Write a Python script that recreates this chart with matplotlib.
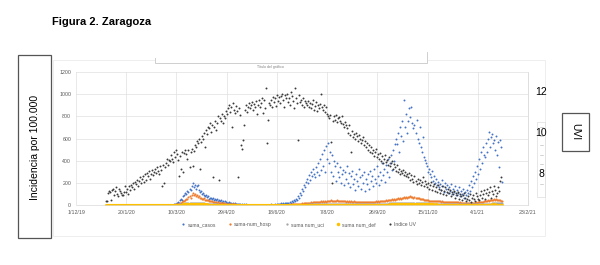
import matplotlib.pyplot as plt
from matplotlib.patches import Rectangle
from matplotlib.lines import Line2D
import pandas as pd

plt.rcParams["font.family"] = ["Liberation Sans", "DejaVu Sans"]

W, H = 600, 265

# first day of each daily series
uv_start = "2019-12-31"
def_start = "2019-12-31"
casos_start = "2020-02-29"
hosp_start = "2020-02-29"
uci_start = "2020-02-29"

# Indice UV (plotted on the incidence scale, as in the source sheet)
indice_uv = [
    35, 40, 110, 130, 120, 45, 140, 150, 90, 130, 160, 100, 80, 150, 130, 110, 90, 95, 120, 170,
    120, 150, 100, 170, 140, 180, 160, 200, 150, 210, 190, 230, 170, 220, 250, 200, 240, 260, 210, 280,
    230, 290, 260, 310, 240, 280, 320, 270, 300, 330, 290, 340, 310, 280, 350, 320, 170, 360, 200, 340,
    380, 420, 360, 410, 400, 450, 420, 390, 480, 430, 500, 460, 410, 260, 440, 330, 480, 300, 470, 500,
    460, 420, 500, 340, 480, 510, 350, 490, 540, 520, 580, 560, 600, 330, 570, 620, 600, 650, 520, 680,
    640, 700, 690, 740, 660, 720, 255, 700, 760, 680, 740, 800, 230, 780, 760, 820, 740, 800, 780, 850,
    820, 870, 900, 840, 880, 700, 920, 860, 830, 890, 850, 255, 870, 810, 540, 510, 590, 720, 860, 900,
    840, 880, 920, 870, 900, 930, 860, 910, 880, 940, 820, 900, 950, 880, 920, 960, 830, 950, 870, 1050,
    560, 770, 920, 900, 950, 880, 970, 930, 960, 890, 990, 940, 970, 920, 980, 1000, 950, 880, 990, 960,
    1000, 930, 960, 900, 1020, 980, 940, 870, 1050, 960, 920, 590, 990, 930, 950, 900, 960, 880, 940, 920,
    900, 940, 880, 920, 870, 910, 950, 860, 890, 930, 850, 900, 870, 910, 1000, 880, 860, 900, 840, 880,
    820, 800, 780, 810, 570, 200, 760, 800, 770, 810, 750, 780, 790, 760, 740, 800, 730, 700, 750, 720,
    690, 650, 720, 630, 475, 670, 610, 640, 600, 650, 620, 580, 630, 600, 560, 590, 610, 540, 580, 520,
    560, 500, 540, 480, 520, 470, 500, 440, 480, 510, 430, 460, 420, 470, 400, 440, 380, 420, 450, 390,
    410, 360, 430, 350, 380, 400, 330, 370, 340, 310, 360, 300, 330, 280, 310, 290, 320, 270, 300, 260,
    280, 250, 290, 230, 270, 240, 210, 260, 220, 190, 240, 200, 230, 180, 210, 250, 170, 220, 190, 160,
    200, 150, 180, 210, 140, 170, 190, 130, 160, 120, 180, 150, 110, 140, 170, 100, 130, 160, 90, 120,
    150, 110, 140, 80, 120, 100, 130, 70, 110, 90, 120, 60, 100, 80, 50, 90, 110, 70, 40, 60,
    80, 50, 100, 30, 70, 90, 60, 40, 110, 80, 60, 50, 90, 130, 70, 100, 140, 60, 110, 150,
    90, 120, 160, 70, 130, 100, 170, 140, 80, 110, 160, 130, 220, 250,
]

suma_casos = [
    0, 1, 0, 2, 1, 3, 5, 4, 8, 10, 15, 20, 30, 25, 45, 60, 50, 80, 95, 110,
    100, 130, 120, 150, 140, 170, 200, 160, 185, 150, 170, 180, 140, 120, 130, 100, 110, 95, 80, 90,
    75, 85, 60, 70, 65, 55, 70, 50, 60, 45, 55, 40, 50, 35, 45, 30, 40, 25, 35, 30,
    25, 20, 30, 18, 22, 15, 20, 12, 18, 10, 14, 8, 12, 10, 6, 9, 7, 10, 5, 8,
    6, 4, 7, 5, 3, 6, 4, 2, 5, 3, 4, 2, 3, 5, 2, 4, 3, 6, 2, 5,
    3, 4, 6, 3, 8, 5, 7, 4, 10, 6, 12, 8, 15, 10, 18, 14, 20, 12, 25, 18,
    20, 25, 15, 30, 22, 35, 28, 45, 38, 60, 50, 80, 70, 110, 95, 150, 130, 180, 160, 210,
    240, 200, 270, 230, 300, 260, 330, 280, 250, 340, 300, 380, 270, 420, 320, 460, 350, 500, 300, 530,
    420, 560, 380, 480, 300, 450, 260, 400, 350, 220, 380, 300, 250, 340, 200, 280, 320, 180, 300, 240,
    350, 200, 290, 160, 260, 310, 190, 240, 140, 280, 220, 170, 330, 250, 150, 270, 200, 300, 130, 240,
    190, 280, 150, 310, 220, 260, 170, 330, 240, 200, 350, 260, 180, 300, 230, 380, 270, 330, 210, 360,
    300, 420, 250, 380, 450, 320, 500, 400, 550, 600,
    550, 650, 480, 700, 620, 760, 580, 945, 700, 820, 650, 760, 875, 790, 880, 740, 690, 720, 650, 765,
    600, 560, 700, 520, 480, 610, 430, 405, 380, 350, 300, 330, 280, 250, 310, 220, 260, 200, 240, 180,
    210, 160, 190, 140, 230, 170, 120, 200, 150, 180, 110, 160, 130, 190, 100, 150, 120, 170, 90, 140,
    110, 160, 80, 130, 100, 150, 70, 120, 90, 140, 110, 180, 130, 220, 160, 260, 200, 300, 240, 350,
    280, 420, 330, 480, 380, 520, 450, 430, 560, 480, 600, 657, 520, 610, 640, 560, 590, 500, 620, 450,
    570, 340, 590, 520, 210,
]

suma_hosp = [
    0, 0, 1, 1, 2, 2, 3, 5, 4, 6, 8, 10, 12, 15, 18, 22, 28, 35, 40, 50,
    60, 55, 75, 80, 70, 95, 110, 90, 100, 85, 95, 75, 80, 65, 70, 60, 55, 62, 48, 52,
    45, 48, 40, 42, 35, 38, 30, 33, 28, 30, 25, 27, 22, 24, 20, 21, 18, 19, 15, 16,
    14, 13, 12, 11, 10, 10, 9, 8, 8, 7, 7, 6, 6, 5, 5, 5, 4, 4, 4, 3,
    3, 3, 2, 3, 2, 2, 3, 2, 2, 1, 2, 2, 1, 2, 1, 2, 1, 1, 2, 1,
    1, 2, 1, 2, 2, 1, 2, 3, 2, 3, 3, 2, 4, 3, 4, 5, 4, 5, 6, 5,
    6, 7, 6, 8, 7, 9, 8, 10, 9, 12, 11, 13, 12, 15, 14, 17, 16, 19, 18, 21,
    22, 20, 24, 23, 26, 25, 28, 26, 30, 27, 32, 29, 33, 30, 35, 31, 36, 33, 38, 34,
    40, 36, 42, 38, 45, 40, 43, 37, 41, 39, 44, 36, 40, 38, 42, 35, 39, 37, 41, 34,
    38, 33, 37, 32, 36, 34, 31, 35, 30, 34, 32, 29, 33, 30, 28, 32, 29, 31, 27, 30,
    28, 31, 27, 30, 29, 32, 28, 33, 30, 35, 31, 36, 33, 38, 35, 40, 37, 42, 39, 45,
    42, 48, 44, 50, 47, 53, 50, 56, 52, 58, 55, 62, 57, 65, 60, 68, 63, 72, 66, 75,
    70, 78, 72, 80, 74, 76, 70, 73, 66, 68, 62, 64, 58, 60, 55, 56, 52, 50, 48, 46,
    44, 42, 43, 40, 41, 38, 40, 37, 38, 36, 37, 35, 36, 34, 35, 33, 34, 32, 33, 31,
    32, 30, 31, 29, 30, 28, 29, 27, 28, 26, 27, 25, 26, 24, 25, 23, 24, 22, 23, 21,
    22, 20, 22, 21, 23, 22, 24, 23, 26, 25, 28, 27, 30, 29, 33, 32, 36, 35, 40, 38,
    44, 42, 48, 45, 52, 48, 55, 50, 53, 47, 50, 44, 46, 40, 36,
]

suma_uci = [
    0, 0, 1, 1, 1, 2, 2, 3, 3, 4, 5, 6, 7, 8, 9, 11, 12, 14, 15, 17,
    18, 20, 19, 22, 21, 24, 22, 25, 23, 22, 21, 22, 20, 19, 20, 18, 17, 18, 16, 15,
    15, 14, 13, 13, 12, 11, 11, 10, 9, 9, 8, 8, 7, 7, 6, 6, 5, 5, 5, 4,
    4, 4, 3, 3, 3, 3, 2, 2, 2, 2, 2, 2, 1, 2, 1, 1, 1, 1, 1, 1,
    1, 1, 1, 0, 1, 1, 0, 1, 0, 1, 0, 0, 1, 0, 0, 1, 0, 0, 0, 1,
    0, 0, 1, 0, 0, 1, 0, 1, 1, 0, 1, 1, 1, 2, 1, 2, 2, 2, 3, 2,
    3, 3, 2, 3, 4, 3, 4, 4, 5, 4, 5, 5, 6, 5, 6, 6, 7, 6, 7, 7,
    8, 7, 8, 8, 9, 8, 9, 9, 10, 9, 10, 10, 11, 10, 11, 11, 12, 11, 12, 12,
    12, 13, 12, 13, 12, 13, 12, 12, 13, 12, 12, 11, 12, 11, 12, 11, 11, 12, 11, 11,
    10, 11, 10, 11, 10, 10, 11, 10, 10, 9, 10, 9, 10, 9, 9, 10, 9, 9, 8, 9,
    9, 8, 9, 9, 10, 9, 10, 10, 11, 10, 11, 11, 12, 12, 13, 13, 14, 14, 15, 15,
    16, 16, 17, 17, 18, 18, 19, 19, 20, 20, 21, 21, 22, 22, 22, 23, 23, 23, 24, 24,
    24, 25, 24, 25, 24, 24, 23, 24, 23, 23, 22, 22, 21, 21, 20, 20, 19, 19, 18, 18,
    17, 17, 16, 16, 16, 15, 15, 15, 14, 14, 14, 13, 13, 13, 12, 12, 12, 11, 11, 11,
    11, 10, 10, 10, 10, 9, 9, 9, 9, 9, 8, 8, 8, 8, 8, 8, 8, 8, 8, 8,
    8, 8, 8, 9, 9, 9, 9, 10, 10, 10, 11, 11, 11, 12, 12, 12, 13, 13, 14, 14,
    15, 15, 16, 16, 17, 17, 18, 18, 18, 19, 19, 19, 20, 20, 20,
]

suma_def = [
    0, 0, 0, 0, 0, 0, 0, 0, 0, 0, 0, 0, 0, 0, 0, 0, 0, 0, 0, 0,
    0, 0, 0, 0, 0, 0, 0, 0, 0, 0, 0, 0, 0, 0, 0, 0, 0, 0, 0, 0,
    0, 0, 0, 0, 0, 0, 0, 0, 0, 0, 0, 0, 0, 0, 0, 0, 0, 0, 0, 0,
    0, 0, 0, 0, 0, 1, 0, 1, 1, 2, 2, 3, 3, 4, 5, 6, 7, 8, 10, 9,
    12, 11, 14, 13, 15, 12, 16, 14, 13, 15, 12, 11, 13, 10, 11, 9, 10, 8, 9, 7,
    8, 6, 7, 6, 5, 6, 4, 5, 4, 3, 4, 3, 3, 2, 3, 2, 2, 1, 2, 1,
    1, 1, 0, 1, 0, 1, 0, 0, 1, 0, 0, 0, 1, 0, 0, 0, 0, 1, 0, 0,
    0, 0, 0, 0, 1, 0, 0, 0, 0, 0, 0, 0, 0, 1, 0, 0, 0, 0, 0, 0,
    0, 0, 0, 0, 0, 0, 1, 0, 0, 0, 0, 0, 0, 0, 0, 1, 0, 0, 0, 0,
    0, 0, 1, 0, 0, 1, 0, 1, 1, 0, 1, 1, 2, 1, 1, 2, 1, 2, 2, 1,
    2, 3, 2, 2, 3, 2, 3, 3, 2, 4, 3, 3, 4, 3, 4, 4, 3, 5, 4, 4,
    5, 4, 5, 5, 4, 6, 5, 5, 4, 6, 5, 4, 5, 5, 6, 4, 5, 5, 4, 5,
    4, 5, 4, 4, 5, 3, 4, 4, 5, 3, 4, 3, 4, 4, 3, 4, 3, 3, 4, 3,
    3, 4, 3, 4, 4, 3, 5, 4, 4, 5, 4, 5, 5, 6, 5, 6, 6, 5, 7, 6,
    7, 7, 6, 8, 7, 8, 8, 7, 9, 8, 9, 9, 8, 10, 9, 10, 10, 9, 11, 10,
    11, 10, 12, 11, 12, 11, 13, 12, 12, 11, 12, 11, 11, 10, 10, 9, 10, 9, 9, 8,
    8, 9, 8, 8, 7, 8, 7, 7, 8, 7, 6, 7, 7, 6, 6, 7, 6, 6, 5, 6,
    6, 5, 6, 5, 5, 6, 5, 5, 4, 5, 5, 4, 5, 4, 4, 5, 4, 4, 3, 4,
    4, 3, 4, 3, 4, 4, 3, 4, 4, 5, 4, 5, 5, 4, 5, 6, 5, 6, 6, 7,
    6, 7, 7, 6, 8, 7, 7, 8, 7, 6, 7, 6, 6, 5, 5,
]

x_ticks = pd.date_range("2019-12-01", "2021-02-23", freq="50D")
x_labels = ["1/12/19", "20/1/20", "10/3/20", "29/4/20", "18/6/20",
            "7/8/20", "26/9/20", "15/11/20", "4/1/21", "23/2/21"]
y_ticks = [0, 200, 400, 600, 800, 1000, 1200]
uvi_labels = ["12", "10", "8"]

# name, first day, values, colour, marker size
series = [
    ("suma_casos", casos_start, suma_casos, "#4472C4", 1.4),
    ("suma-num_hosp", hosp_start, suma_hosp, "#ED7D31", 1.5),
    ("suma num_uci", uci_start, suma_uci, "#A5A5A5", 1.5),
    ("suma num_def", def_start, suma_def, "#FFC000", 2.3),
    ("Indice UV", uv_start, indice_uv, "#3a3a3a", 1.4),
]


def fx(x):
    return x / W


def fy(y):
    return 1 - y / H


fig = plt.figure(figsize=(6, 2.65), dpi=100)

# light chart-area frame and the empty title placeholder
fig.add_artist(Rectangle((fx(53), fy(236)), fx(545) - fx(53), fy(60) - fy(236),
                         transform=fig.transFigure, fill=False, ec="#ebebeb", lw=0.6))
fig.add_artist(Rectangle((fx(155), fy(62.5)), fx(427) - fx(155), fy(52) - fy(62.5),
                         transform=fig.transFigure, fc="white", ec="#c8c8c8", lw=0.6))
fig.add_artist(Rectangle((fx(155), fy(58)), fx(427) - fx(155), 0.03,
                         transform=fig.transFigure, fc="white", ec="none"))

ax = fig.add_axes([fx(76), fy(205.3), fx(528) - fx(76), fy(71.7) - fy(205.3)])
for name, start, vals, col, size in series:
    dates = pd.date_range(start, periods=len(vals), freq="D")
    ax.plot(dates, vals, linestyle="", marker="o", ms=size, mew=0,
            color=col, label=name)

ax.set_xlim(x_ticks[0], x_ticks[-1])
ax.set_ylim(0, 1200)
ax.set_xticks(x_ticks)
ax.set_xticklabels(x_labels)
ax.set_yticks(y_ticks)
ax.tick_params(labelsize=3.8, colors="#595959", length=0, pad=3.5)
ax.grid(True, color="#e0e0e0", lw=0.5)
ax.set_axisbelow(True)
for s in ["top", "left"]:
    ax.spines[s].set_visible(False)
ax.spines["bottom"].set_color("#d9d9d9")
ax.spines["bottom"].set_linewidth(0.5)
ax.spines["right"].set_color("#d0d0d0")
ax.spines["right"].set_linewidth(0.5)

ax.text(0.43, 1.02, "Título del gráfico", transform=ax.transAxes,
        fontsize=2.6, color="#808080", ha="center", va="bottom")

# overlaid labels of the secondary (UV) scale
for lab, yy in zip(uvi_labels, [92, 133, 174]):
    fig.text(fx(541), fy(yy), lab, fontsize=7.5, ha="center", va="center")

# tiny secondary legend strip at the right
fig.add_artist(Rectangle((fx(536.7), fy(196.7)), fx(545) - fx(536.7), fy(121.7) - fy(196.7),
                         transform=fig.transFigure, fill=False, ec="#dddddd", lw=0.5))
for yy in [127, 136, 145, 155, 164, 172, 184]:
    fig.add_artist(Line2D([fx(539.5), fx(542.5)], [fy(yy), fy(yy)],
                          transform=fig.transFigure, color="#b0b0b0", lw=0.4))

fig.text(fx(52), fy(22), "Figura 2. Zaragoza", fontsize=8, fontweight="bold",
         va="center", ha="left")

fig.add_artist(Rectangle((fx(18.3), fy(238)), fx(51) - fx(18.3), fy(55) - fy(238),
                         transform=fig.transFigure, fill=False, ec="#555555", lw=0.9))
fig.text(fx(34.7), fy(147), "Incidencia por 100.000", rotation=90, fontsize=7.5,
         ha="center", va="center")

fig.add_artist(Rectangle((fx(561.7), fy(151)), fx(589.3) - fx(561.7), fy(113) - fy(151),
                         transform=fig.transFigure, fill=False, ec="#555555", lw=0.9))
fig.text(fx(575.5), fy(132), "UVI", rotation=-90, fontsize=7.5,
         ha="center", va="center")

leg = fig.legend(loc="center", bbox_to_anchor=(fx(299), fy(224.5)), ncol=5,
                 fontsize=3.6, frameon=False, handlelength=0.6,
                 handletextpad=0.5, columnspacing=2.6, markerscale=1.1)
for t in leg.get_texts():
    t.set_color("#595959")

fig.savefig("out.png", dpi=100)
